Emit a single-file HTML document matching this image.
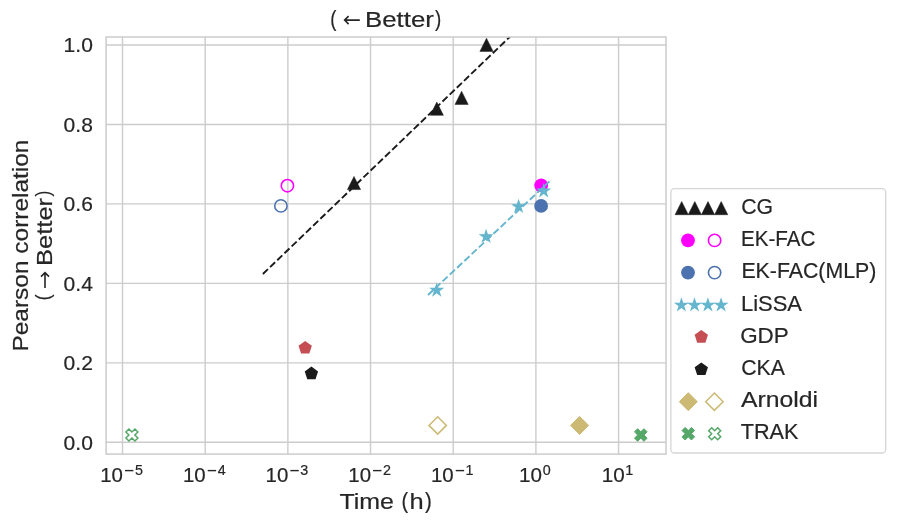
<!DOCTYPE html>
<html><head><meta charset="utf-8"><style>
html,body{margin:0;padding:0;background:#fff;overflow:hidden}
svg{display:block;will-change:transform}
text{font-family:"Liberation Sans", sans-serif;fill:#262626;stroke:#262626;stroke-width:0.2px}
</style></head><body>
<svg width="897" height="525" viewBox="0 0 897 525">
<rect x="0" y="0" width="897" height="525" fill="#fff"/>
<line x1="122.5" y1="37.0" x2="122.5" y2="454.1" stroke="#cccccc" stroke-width="1.4"/>
<line x1="205.18" y1="37.0" x2="205.18" y2="454.1" stroke="#cccccc" stroke-width="1.4"/>
<line x1="287.86" y1="37.0" x2="287.86" y2="454.1" stroke="#cccccc" stroke-width="1.4"/>
<line x1="370.54" y1="37.0" x2="370.54" y2="454.1" stroke="#cccccc" stroke-width="1.4"/>
<line x1="453.22" y1="37.0" x2="453.22" y2="454.1" stroke="#cccccc" stroke-width="1.4"/>
<line x1="535.9" y1="37.0" x2="535.9" y2="454.1" stroke="#cccccc" stroke-width="1.4"/>
<line x1="618.58" y1="37.0" x2="618.58" y2="454.1" stroke="#cccccc" stroke-width="1.4"/>
<line x1="106.1" y1="442.3" x2="666.0" y2="442.3" stroke="#cccccc" stroke-width="1.4"/>
<line x1="106.1" y1="362.84" x2="666.0" y2="362.84" stroke="#cccccc" stroke-width="1.4"/>
<line x1="106.1" y1="283.38" x2="666.0" y2="283.38" stroke="#cccccc" stroke-width="1.4"/>
<line x1="106.1" y1="203.92" x2="666.0" y2="203.92" stroke="#cccccc" stroke-width="1.4"/>
<line x1="106.1" y1="124.46" x2="666.0" y2="124.46" stroke="#cccccc" stroke-width="1.4"/>
<line x1="106.1" y1="45" x2="666.0" y2="45" stroke="#cccccc" stroke-width="1.4"/>
<defs><clipPath id="ax"><rect x="106.1" y="37.0" width="559.9" height="417.1"/></clipPath></defs>
<g clip-path="url(#ax)">
<line x1="262.9" y1="274" x2="512.9" y2="33.88" stroke="#1a1a1a" stroke-width="1.9" stroke-dasharray="6.98 2.98"/>
<polygon points="354,176.4 347.4,189.6 360.6,189.6" fill="#1a1a1a" stroke="#1a1a1a" stroke-width="0.5"/>
<polygon points="436.8,102.1 430.2,115.3 443.4,115.3" fill="#1a1a1a" stroke="#1a1a1a" stroke-width="0.5"/>
<polygon points="461.6,91.2 455,104.4 468.2,104.4" fill="#1a1a1a" stroke="#1a1a1a" stroke-width="0.5"/>
<polygon points="486.5,38.2 479.9,51.4 493.1,51.4" fill="#1a1a1a" stroke="#1a1a1a" stroke-width="0.5"/>
<circle cx="287.4" cy="185.7" r="6.15" fill="none" stroke="#ff00ff" stroke-width="1.6"/>
<circle cx="541.2" cy="185.3" r="6.9" fill="#ff00ff"/>
<circle cx="280.9" cy="205.9" r="6.15" fill="none" stroke="#4c72b0" stroke-width="1.6"/>
<circle cx="541.1" cy="205.9" r="6.9" fill="#4c72b0"/>
<line x1="428" y1="295" x2="549.4" y2="181.4" stroke="#64b5cd" stroke-width="1.9" stroke-dasharray="6.98 2.98"/>
<polygon points="436.7,284.2 435.33,288.41 430.9,288.41 434.48,291.02 433.11,295.24 436.7,292.63 440.29,295.24 438.92,291.02 442.5,288.41 438.07,288.41" fill="#64b5cd" stroke="#64b5cd" stroke-width="1.1"/>
<polygon points="486.1,230.5 484.73,234.71 480.3,234.71 483.88,237.32 482.51,241.54 486.1,238.93 489.69,241.54 488.32,237.32 491.9,234.71 487.47,234.71" fill="#64b5cd" stroke="#64b5cd" stroke-width="1.1"/>
<polygon points="518.6,200.5 517.23,204.71 512.8,204.71 516.38,207.32 515.01,211.54 518.6,208.93 522.19,211.54 520.82,207.32 524.4,204.71 519.97,204.71" fill="#64b5cd" stroke="#64b5cd" stroke-width="1.1"/>
<polygon points="543.7,184.9 542.33,189.11 537.9,189.11 541.48,191.72 540.11,195.94 543.7,193.33 547.29,195.94 545.92,191.72 549.5,189.11 545.07,189.11" fill="#64b5cd" stroke="#64b5cd" stroke-width="1.1"/>
<polygon points="305.2,340.9 298.54,345.74 301.09,353.56 309.31,353.56 311.86,345.74" fill="#c44e52"/>
<polygon points="311.4,366.6 304.74,371.44 307.29,379.26 315.51,379.26 318.06,371.44" fill="#1a1a1a"/>
<polygon points="437.7,416.7 446.4,425.4 437.7,434.1 429,425.4" fill="none" stroke="#ccb974" stroke-width="1.5"/>
<polygon points="579.6,416.4 588.6,425.4 579.6,434.4 570.6,425.4" fill="#ccb974" stroke="#ccb974" stroke-width="1"/>
<polygon points="128.9,429 131.9,432 134.9,429 137.9,432 134.9,435 137.9,438 134.9,441 131.9,438 128.9,441 125.9,438 128.9,435 125.9,432" fill="none" stroke="#55a868" stroke-width="1.5"/>
<polygon points="637.65,428.7 640.8,431.85 643.95,428.7 647.1,431.85 643.95,435 647.1,438.15 643.95,441.3 640.8,438.15 637.65,441.3 634.5,438.15 637.65,435 634.5,431.85" fill="#55a868" stroke="#55a868" stroke-width="1"/>
</g>
<rect x="106.1" y="37.0" width="559.9" height="417.1" fill="none" stroke="#cccccc" stroke-width="1.5"/>
<text transform="translate(63.62,449.5) scale(1.0670,1)" font-size="19.7">0.0</text>
<text transform="translate(63.62,370.04) scale(1.0670,1)" font-size="19.7">0.2</text>
<text transform="translate(63.62,290.58) scale(1.0670,1)" font-size="19.7">0.4</text>
<text transform="translate(63.62,211.12) scale(1.0670,1)" font-size="19.7">0.6</text>
<text transform="translate(63.62,131.66) scale(1.0670,1)" font-size="19.7">0.8</text>
<text transform="translate(63.62,52.2) scale(1.0670,1)" font-size="19.7">1.0</text>
<text transform="translate(100.22,481.9) scale(1.0225,1)" font-size="20.0">10</text>
<rect x="125" y="469.9" width="8.4" height="1.4" fill="#262626"/>
<text transform="translate(134.93,475) scale(1.0000,1)" font-size="14.3">5</text>
<text transform="translate(182.9,481.9) scale(1.0225,1)" font-size="20.0">10</text>
<rect x="207.68" y="469.9" width="8.4" height="1.4" fill="#262626"/>
<text transform="translate(217.65,475) scale(1.0000,1)" font-size="14.3">4</text>
<text transform="translate(265.58,481.9) scale(1.0225,1)" font-size="20.0">10</text>
<rect x="290.36" y="469.9" width="8.4" height="1.4" fill="#262626"/>
<text transform="translate(300.33,475) scale(1.0000,1)" font-size="14.3">3</text>
<text transform="translate(348.26,481.9) scale(1.0225,1)" font-size="20.0">10</text>
<rect x="373.04" y="469.9" width="8.4" height="1.4" fill="#262626"/>
<text transform="translate(382.97,475) scale(1.0000,1)" font-size="14.3">2</text>
<text transform="translate(430.94,481.9) scale(1.0225,1)" font-size="20.0">10</text>
<rect x="455.72" y="469.9" width="8.4" height="1.4" fill="#262626"/>
<text transform="translate(465.47,475) scale(1.0000,1)" font-size="14.3">1</text>
<text transform="translate(519,481.9) scale(1.0325,1)" font-size="20.0">10</text>
<text transform="translate(542.63,475) scale(1.0000,1)" font-size="14.3">0</text>
<text transform="translate(601.68,481.9) scale(1.0325,1)" font-size="20.0">10</text>
<text transform="translate(625.13,475) scale(1.0000,1)" font-size="14.3">1</text>
<text transform="translate(330.29,25.77) scale(0.8405,1.0015)" font-size="22.0">(</text>
<text transform="translate(365.03,26.7) scale(1.1744,1)" font-size="22.0">Better</text>
<text transform="translate(434.91,25.8) scale(0.8566,0.9966)" font-size="22.0">)</text>
<path d="M344.9,20.1 H359.8 M348.6,16.1 L344.6,20.1 L348.6,24.1" fill="none" stroke="#262626" stroke-width="1.6"/>
<text transform="translate(339.48,508.6) scale(1.1348,1)" font-size="22.0">Time</text>
<text transform="translate(401.4,507.94) scale(0.9091,1.0306)" font-size="22.0">(</text>
<text transform="translate(409.42,508.6) scale(1.1580,1)" font-size="22.0">h</text>
<text transform="translate(424.9,507.94) scale(0.9266,1.0306)" font-size="22.0">)</text>
<text transform="translate(28.1,351.56) rotate(-90) scale(1.1122,1)" font-size="22.0">Pearson correlation</text>
<text transform="translate(49.89,300.24) rotate(-90) scale(0.7890,0.9334)" font-size="22.0">(</text>
<text transform="translate(51.5,265.94) rotate(-90) scale(1.1602,1)" font-size="22.0">Better</text>
<text transform="translate(49.93,196.58) rotate(-90) scale(0.8042,0.9237)" font-size="22.0">)</text>
<path d="M45,288 V272.9 M41,276.6 L45,272.6 L49,276.6" fill="none" stroke="#262626" stroke-width="1.6"/>
<rect x="670.9" y="188.7" width="214.8" height="264.3" rx="3.5" ry="3.5" fill="#fff" stroke="#d6d6d6" stroke-width="1.3"/>
<text transform="translate(741.24,214.15) scale(0.9653,1)" font-size="22.0">CG</text>
<text transform="translate(741.05,246.3) scale(0.9364,1)" font-size="22.0">EK-FAC</text>
<text transform="translate(741.4,278.45) scale(0.9686,1)" font-size="22.0">EK-FAC(MLP)</text>
<text transform="translate(740.94,310.6) scale(0.9985,1)" font-size="22.0">LiSSA</text>
<text transform="translate(740.18,342.75) scale(1.0192,1)" font-size="22.0">GDP</text>
<text transform="translate(741.24,374.9) scale(0.9659,1)" font-size="22.0">CKA</text>
<text transform="translate(741.08,407.05) scale(1.1259,1)" font-size="22.0">Arnoldi</text>
<text transform="translate(740.66,439.2) scale(0.9851,1)" font-size="22.0">TRAK</text>
<polygon points="681.7,201.5 675.1,214.7 688.3,214.7" fill="#1a1a1a" stroke="#1a1a1a" stroke-width="0.5"/>
<polygon points="694.8,201.5 688.2,214.7 701.4,214.7" fill="#1a1a1a" stroke="#1a1a1a" stroke-width="0.5"/>
<polygon points="708,201.5 701.4,214.7 714.6,214.7" fill="#1a1a1a" stroke="#1a1a1a" stroke-width="0.5"/>
<polygon points="721.2,201.5 714.6,214.7 727.8,214.7" fill="#1a1a1a" stroke="#1a1a1a" stroke-width="0.5"/>
<circle cx="688" cy="240.4" r="6.9" fill="#ff00ff"/>
<circle cx="714.6" cy="240.4" r="6.15" fill="none" stroke="#ff00ff" stroke-width="1.6"/>
<circle cx="688" cy="272.6" r="6.9" fill="#4c72b0"/>
<circle cx="714.6" cy="272.6" r="6.15" fill="none" stroke="#4c72b0" stroke-width="1.6"/>
<polygon points="681.4,299 680.03,303.21 675.6,303.21 679.18,305.82 677.81,310.04 681.4,307.43 684.99,310.04 683.62,305.82 687.2,303.21 682.77,303.21" fill="#64b5cd" stroke="#64b5cd" stroke-width="1.1"/>
<polygon points="694.5,299 693.13,303.21 688.7,303.21 692.28,305.82 690.91,310.04 694.5,307.43 698.09,310.04 696.72,305.82 700.3,303.21 695.87,303.21" fill="#64b5cd" stroke="#64b5cd" stroke-width="1.1"/>
<polygon points="707.9,299 706.53,303.21 702.1,303.21 705.68,305.82 704.31,310.04 707.9,307.43 711.49,310.04 710.12,305.82 713.7,303.21 709.27,303.21" fill="#64b5cd" stroke="#64b5cd" stroke-width="1.1"/>
<polygon points="721.1,299 719.73,303.21 715.3,303.21 718.88,305.82 717.51,310.04 721.1,307.43 724.69,310.04 723.32,305.82 726.9,303.21 722.47,303.21" fill="#64b5cd" stroke="#64b5cd" stroke-width="1.1"/>
<polygon points="701.3,330 694.64,334.84 697.19,342.66 705.41,342.66 707.96,334.84" fill="#c44e52"/>
<polygon points="701.3,362.4 694.64,367.24 697.19,375.06 705.41,375.06 707.96,367.24" fill="#1a1a1a"/>
<polygon points="688.3,392.7 697.3,401.7 688.3,410.7 679.3,401.7" fill="#ccb974" stroke="#ccb974" stroke-width="1"/>
<polygon points="714.4,393 723.1,401.7 714.4,410.4 705.7,401.7" fill="none" stroke="#ccb974" stroke-width="1.5"/>
<polygon points="685.15,427.4 688.3,430.55 691.45,427.4 694.6,430.55 691.45,433.7 694.6,436.85 691.45,440 688.3,436.85 685.15,440 682,436.85 685.15,433.7 682,430.55" fill="#55a868" stroke="#55a868" stroke-width="1"/>
<polygon points="711.7,427.7 714.7,430.7 717.7,427.7 720.7,430.7 717.7,433.7 720.7,436.7 717.7,439.7 714.7,436.7 711.7,439.7 708.7,436.7 711.7,433.7 708.7,430.7" fill="none" stroke="#55a868" stroke-width="1.5"/>
</svg>
</body></html>
